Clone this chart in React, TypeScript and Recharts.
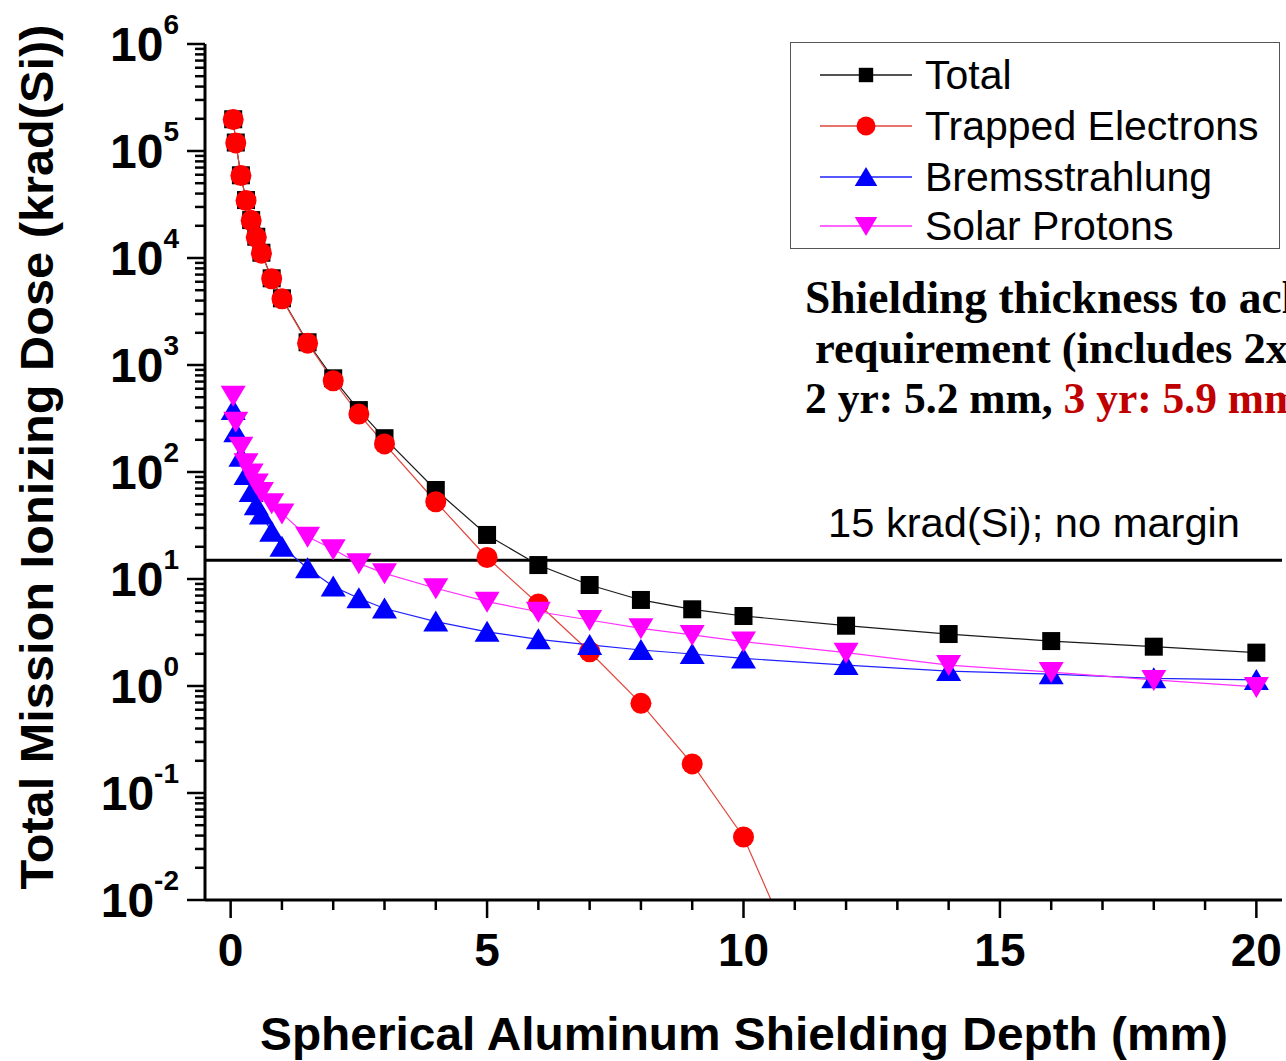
import { Legend, Line, LineChart, ReferenceLine, XAxis, YAxis } from 'recharts'

// shielding depth in mm (SHIELDOSE-2 standard depth grid)
const depths = [0.05, 0.1, 0.2, 0.3, 0.4, 0.5, 0.6, 0.8, 1.0, 1.5, 2, 2.5, 3, 4, 5, 6, 7, 8, 9, 10, 12, 14, 16, 18, 20]

// dose in krad(Si)
const total = [1.98e5, 1.2e5, 5.93e4, 3.48e4, 2.26e4, 1.58e4, 1.12e4, 6460, 4200, 1630, 751, 379, 207, 67.9, 25.8, 13.5, 8.79, 6.37, 5.21, 4.51, 3.66, 3.06, 2.63, 2.33, 2.05]
const trappedElectrons = [1.97e5, 1.19e5, 5.9e4, 3.45e4, 2.24e4, 1.56e4, 1.11e4, 6400, 4150, 1600, 713, 348, 183, 52.7, 15.9, 5.84, 2.09, 0.689, 0.187, 0.0388, 2.5e-4, null, null, null, null]
const bremsstrahlung = [379, 235, 139, 94, 65, 49, 40, 27.7, 20, 12.6, 8.5, 6.6, 5.3, 4.0, 3.21, 2.73, 2.42, 2.17, 1.99, 1.81, 1.57, 1.38, 1.29, 1.18, 1.14]
const solarProtons = [516, 295, 172, 121, 97, 78, 65, 51, 41, 24.8, 19, 14, 11.3, 8.2, 6.14, 4.94, 4.14, 3.46, 3.0, 2.6, 2.05, 1.57, 1.35, 1.14, 0.98]

const requirementKrad = 15

const xTicks = Array.from({ length: 21 }, (_, i) => i)
const decades = [-2, -1, 0, 1, 2, 3, 4, 5, 6]
const yTicks: number[] = []
decades.forEach((k) => {
  yTicks.push(Number((10 ** k).toPrecision(6)))
  if (k < 6) {
    for (let m = 2; m <= 9; m++) yTicks.push(Number((m * 10 ** k).toPrecision(6)))
  }
})

const data = depths.map((d, i) => ({
  depth: d,
  total: total[i],
  trapped: trappedElectrons[i],
  brems: bremsstrahlung[i],
  solar: solarProtons[i]
}))

const SANS = '"Liberation Sans", Arial, sans-serif'
const SERIF = '"Liberation Serif", "Times New Roman", serif'

const series = [
  { key: 'total', label: 'Total', line: '#1a1a1a', fill: '#000000', shape: 'square' },
  { key: 'trapped', label: 'Trapped Electrons', line: '#e2463c', fill: '#ff0000', shape: 'circle' },
  { key: 'brems', label: 'Bremsstrahlung', line: '#2020ff', fill: '#0000ff', shape: 'up' },
  { key: 'solar', label: 'Solar Protons', line: '#ff30ff', fill: '#ff00ff', shape: 'down' }
]

function Marker({ shape, cx, cy, fill, s = 1 }: any) {
  if (shape === 'square') {
    const h = 9 * s
    return <rect x={cx - h} y={cy - h} width={2 * h} height={2 * h} fill={fill} />
  }
  if (shape === 'circle') return <circle cx={cx} cy={cy} r={10.5 * s} fill={fill} />
  const w = 12.5 * s
  const t = 11 * s
  const b = 10 * s
  if (shape === 'up') {
    return <polygon points={`${cx},${cy - t} ${cx - w},${cy + b} ${cx + w},${cy + b}`} fill={fill} />
  }
  return <polygon points={`${cx},${cy + t} ${cx - w},${cy - b} ${cx + w},${cy - b}`} fill={fill} />
}

const makeDot = (shape: string, fill: string) => (props: any) => {
  const { cx, cy, index } = props
  if (cx == null || cy == null || Number.isNaN(cy)) return <g key={`n-${shape}-${index}`} />
  return (
    <g key={`d-${shape}-${index}`}>
      <Marker shape={shape} cx={cx} cy={cy} fill={fill} />
    </g>
  )
}

function YTick(props: any) {
  const { x, y, payload } = props
  const v = payload.value
  const lg = Math.log10(v)
  const exp = Math.round(lg)
  const major = Math.abs(lg - exp) < 1e-6
  return (
    <g>
      <line x1={x} x2={x - (major ? 18 : 10)} y1={y} y2={y} stroke="#000" strokeWidth={2.5} />
      {major && (
        <text x={x - 26} y={y + 17} textAnchor="end" fontFamily={SANS} fontWeight="bold" fontSize={48} fill="#000">
          10
          <tspan fontSize={28} dy={-27}>{exp}</tspan>
        </text>
      )}
    </g>
  )
}

function XTick(props: any) {
  const { x, y, payload } = props
  const v = payload.value
  const major = v % 5 === 0
  return (
    <g>
      <line x1={x} x2={x} y1={y} y2={y + (major ? 18 : 10)} stroke="#000" strokeWidth={2.5} />
      {major && (
        <text x={x} y={y + 66} textAnchor="middle" fontFamily={SANS} fontWeight="bold" fontSize={46} fill="#000">
          {v}
        </text>
      )}
    </g>
  )
}

function YTitle() {
  return (
    <text
      transform="translate(53, 457) rotate(-90)"
      textAnchor="middle"
      fontFamily={SANS}
      fontWeight="bold"
      fontSize={46}
      textLength={865}
      lengthAdjust="spacingAndGlyphs"
      fill="#000"
    >
      Total Mission Ionizing Dose (krad(Si))
    </text>
  )
}

function XTitle() {
  return (
    <text
      x={744}
      y={1050}
      textAnchor="middle"
      fontFamily={SANS}
      fontWeight="bold"
      fontSize={47}
      textLength={968}
      lengthAdjust="spacingAndGlyphs"
      fill="#000"
    >
      Spherical Aluminum Shielding Depth (mm)
    </text>
  )
}

function LimitLabel() {
  return (
    <text x={828} y={537} fontFamily={SANS} fontSize={40} textLength={412} lengthAdjust="spacingAndGlyphs" fill="#000">
      15 krad(Si); no margin
    </text>
  )
}

function LegendBox() {
  const rows = [33, 84, 135, 184]
  return (
    <div style={{ width: 490, height: 207, border: '1.5px solid #555', background: '#fff', boxSizing: 'border-box', position: 'relative' }}>
      <svg width={490} height={207} style={{ display: 'block', position: 'absolute', left: -1.5, top: -1.5, overflow: 'visible' }}>
        {series.map((s, i) => (
          <g key={s.key}>
            <line x1={30} x2={122} y1={rows[i]} y2={rows[i]} stroke={s.line} strokeWidth={1.5} />
            <Marker shape={s.shape} cx={76} cy={rows[i]} fill={s.fill} s={s.shape === 'square' ? 0.8 : 0.9} />
            <text x={135} y={rows[i] + 14} fontFamily={SANS} fontSize={41} fill="#000">
              {s.label}
            </text>
          </g>
        ))}
      </svg>
    </div>
  )
}

export default function App() {
  return (
    <div style={{ position: 'relative', width: 1286, height: 1061, background: '#fff', overflow: 'hidden' }}>
      <style>{'body{margin:0}'}</style>
      <LineChart width={1286} height={1061} data={data} margin={{ top: 44, right: 4, bottom: 101, left: 105 }}>
        <XAxis
          dataKey="depth"
          type="number"
          domain={[-0.5, 20.5]}
          ticks={xTicks}
          interval={0}
          height={60}
          tickSize={0}
          tickMargin={0}
          tickLine={false}
          tick={<XTick />}
          axisLine={{ stroke: '#000', strokeWidth: 3 }}
          label={<XTitle />}
        />
        <YAxis
          type="number"
          scale="log"
          domain={[0.01, 1e6]}
          allowDataOverflow
          ticks={yTicks}
          interval={0}
          width={100}
          tickSize={0}
          tickMargin={0}
          tickLine={false}
          tick={<YTick />}
          axisLine={{ stroke: '#000', strokeWidth: 3 }}
          label={<YTitle />}
        />
        <ReferenceLine y={requirementKrad} stroke="#000" strokeWidth={3} label={<LimitLabel />} />
        {series.map((s) => (
          <Line
            key={s.key}
            dataKey={s.key}
            name={s.label}
            type="linear"
            stroke={s.line}
            strokeWidth={1.2}
            dot={makeDot(s.shape, s.fill)}
            activeDot={false}
            isAnimationActive={false}
            connectNulls={false}
          />
        ))}
        <Legend
          layout="vertical"
          align="center"
          verticalAlign="middle"
          content={<LegendBox />}
          wrapperStyle={{ position: 'absolute', left: 790, top: 42, width: 490, height: 207 }}
        />
      </LineChart>
      <svg width={1286} height={1061} style={{ position: 'absolute', left: 0, top: 0, pointerEvents: 'none' }}>
        <g fontFamily={SERIF} fontWeight="bold" fill="#000">
          <text x={805} y={313} fontSize={45.5}>Shielding thickness to achieve</text>
          <text x={815} y={363} fontSize={44.5}>requirement (includes 2x margin)</text>
          <text x={805} y={413} fontSize={43.5}>
            2 yr: 5.2 mm, <tspan fill="#c00000">3 yr: 5.9 mm</tspan>
          </text>
        </g>
      </svg>
    </div>
  )
}
